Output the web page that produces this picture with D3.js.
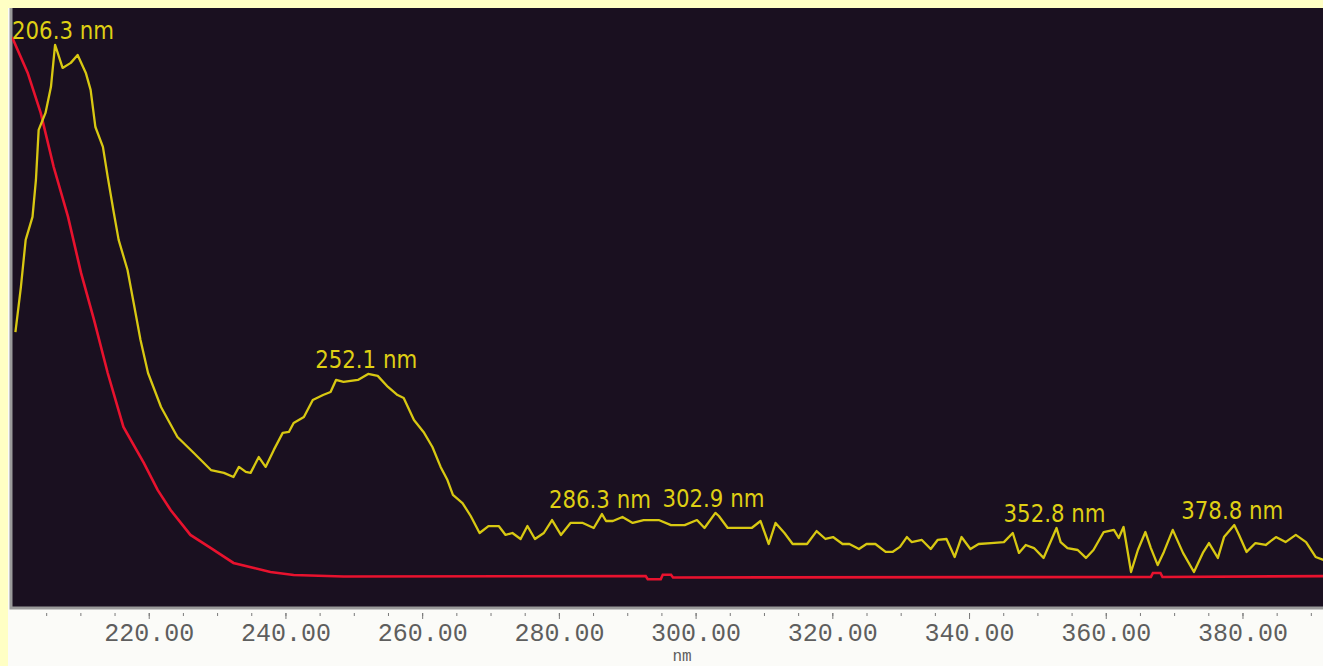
<!DOCTYPE html>
<html>
<head>
<meta charset="utf-8">
<script src="https://cdn.jsdelivr.net/npm/d3@7"></script>
<style>
    html, body { margin: 0; padding: 0; background: #ffffc4; overflow: hidden; }
    svg { display: block; }
    .peak-label { font-family: "DejaVu Sans Condensed", "DejaVu Sans", sans-serif; font-stretch: condensed; font-size: 24px; fill: #dfcf14; }
    .x.axis text { font-family: "Liberation Mono", "DejaVu Sans Mono", monospace; font-size: 25px; fill: #5e5e5e; }
    .x.axis line { stroke: #7a7a7a; }
    .x.axis path { display: none; }
</style>
</head>
<body>
<div id="chart"></div>
<script>
"use strict";

// sample spectrum (yellow): wavelength in nm, absorbance
const sampleNm = [200.5, 201.3, 202.0, 203.0, 203.5, 203.9, 204.9, 205.7, 206.3, 206.7, 207.4, 208.6, 209.6, 210.8,
    211.5, 212.2, 213.3, 214.0, 214.9, 215.6, 216.9, 217.8, 218.8, 219.9, 221.8, 224.2, 226.6, 229.1, 231.0, 232.4,
    233.2, 234.2, 234.9, 236.1, 237.1, 238.3, 239.6, 240.5, 241.2, 242.7, 244.0, 245.5, 246.6, 247.4, 248.5, 250.6,
    252.1, 253.5, 255.0, 256.4, 257.3, 258.8, 260.2, 261.5, 262.7, 263.7, 264.5, 265.9, 267.1, 268.4, 269.7, 271.2,
    272.2, 273.2, 274.4, 275.4, 276.5, 277.8, 279.0, 280.3, 281.7, 283.5, 285.1, 286.3, 286.9, 287.9, 289.3, 290.8,
    292.4, 294.6, 296.4, 298.4, 300.2, 301.3, 302.9, 303.4, 304.7, 306.5, 308.2, 309.5, 310.7, 311.7, 313.0, 314.2,
    316.3, 317.7, 319.0, 320.1, 321.5, 322.5, 323.9, 325.0, 326.3, 327.8, 328.8, 329.9, 330.9, 331.6, 333.1, 334.4,
    335.4, 336.7, 337.9, 338.9, 340.2, 341.4, 343.2, 345.1, 346.4, 347.3, 348.3, 349.5, 350.9, 352.8, 353.4, 354.4,
    355.9, 357.1, 358.2, 359.7, 361.2, 361.9, 362.6, 363.7, 364.7, 365.8, 366.6, 367.6, 368.5, 369.8, 371.3, 372.9,
    374.2, 375.1, 376.4, 377.3, 378.8, 379.5, 380.6, 381.9, 383.4, 384.9, 386.3, 387.8, 389.3, 390.7, 391.9];
const sampleAbs = [1.323, 1.556, 1.800, 1.919, 2.110, 2.369, 2.457, 2.592, 2.809, 2.767, 2.690, 2.716, 2.757, 2.664,
    2.576, 2.384, 2.281, 2.126, 1.939, 1.800, 1.644, 1.473, 1.282, 1.111, 0.935, 0.780, 0.697, 0.609, 0.594, 0.573,
    0.625, 0.599, 0.594, 0.676, 0.625, 0.713, 0.801, 0.806, 0.852, 0.883, 0.971, 0.997, 1.013, 1.075, 1.065, 1.075,
    1.106, 1.096, 1.039, 0.997, 0.982, 0.868, 0.806, 0.728, 0.625, 0.557, 0.480, 0.438, 0.371, 0.283, 0.319, 0.319,
    0.273, 0.283, 0.252, 0.319, 0.252, 0.283, 0.350, 0.273, 0.335, 0.335, 0.309, 0.381, 0.345, 0.345, 0.366, 0.335,
    0.350, 0.350, 0.324, 0.324, 0.350, 0.309, 0.387, 0.371, 0.309, 0.309, 0.309, 0.345, 0.226, 0.335, 0.283, 0.226,
    0.226, 0.293, 0.252, 0.262, 0.226, 0.226, 0.200, 0.226, 0.226, 0.185, 0.185, 0.211, 0.262, 0.236, 0.247, 0.200,
    0.247, 0.252, 0.159, 0.262, 0.200, 0.226, 0.231, 0.236, 0.283, 0.180, 0.221, 0.205, 0.154, 0.309, 0.236, 0.205,
    0.195, 0.154, 0.195, 0.288, 0.299, 0.257, 0.314, 0.081, 0.195, 0.288, 0.205, 0.117, 0.185, 0.299, 0.180, 0.081,
    0.180, 0.231, 0.154, 0.262, 0.324, 0.273, 0.185, 0.231, 0.221, 0.262, 0.236, 0.273, 0.236, 0.159, 0.143];

// blank / reference spectrum (red)
const blankNm = [200.0, 202.3, 204.2, 206.1, 208.2, 210.1, 212.0, 214.0, 216.3, 219.3, 221.3, 223.2, 226.1, 229.1,
    232.4, 235.4, 237.8, 241.2, 248.5, 292.7, 293.0, 294.9, 295.2, 296.4, 296.7, 366.6, 366.9, 368.0, 368.3, 391.9];
const blankAbs = [2.850, 2.664, 2.457, 2.177, 1.919, 1.629, 1.386, 1.111, 0.832, 0.645, 0.506, 0.402, 0.273, 0.205,
    0.128, 0.102, 0.081, 0.066, 0.058, 0.060, 0.044, 0.044, 0.067, 0.067, 0.053, 0.055, 0.076, 0.076, 0.055, 0.060];

// marked peaks
const peakNm = [206.3, 252.1, 286.3, 302.9, 352.8, 378.8];

// axis
const majorTicks = [220, 240, 260, 280, 300, 320, 340, 360, 380];
const xTitle = "nm";

function main() {
    const width = 1323;
    const height = 666;
    const plot = {left: 12, top: 8, right: 1323, bottom: 607};

    const svg = d3.select("#chart").append("svg")
        .attr("width", width)
        .attr("height", height);

    // paper + screen
    svg.append("rect")
        .attr("x", 8).attr("y", 8)
        .attr("width", width - 8).attr("height", height - 8)
        .attr("fill", "#fbfbf8");
    svg.append("rect")
        .attr("x", plot.left).attr("y", plot.top)
        .attr("width", plot.right - plot.left).attr("height", plot.bottom - plot.top)
        .attr("fill", "#1a1020");
    // grey frame on left and bottom
    svg.append("path")
        .attr("d", "M" + (plot.left - 1) + "," + plot.top + "V" + (plot.bottom + 1) + "H" + plot.right)
        .attr("fill", "none")
        .attr("stroke", "#9a9a9a")
        .attr("stroke-width", 3);

    svg.append("clipPath").attr("id", "plot-clip")
        .append("rect")
        .attr("x", plot.left).attr("y", plot.top)
        .attr("width", plot.right - plot.left).attr("height", plot.bottom - plot.top);

    const xScale = d3.scaleLinear()
        .domain([200, 400])
        .range([plot.left, plot.left + 200 * 6.836]);
    const yScale = d3.scaleLinear()
        .domain([-0.1, 3.0])
        .range([plot.bottom, plot.top]);

    const line = d3.line()
        .x(function (d) { return xScale(d[0]); })
        .y(function (d) { return yScale(d[1]); });

    const blank = d3.zip(blankNm, blankAbs);
    const sample = d3.zip(sampleNm, sampleAbs);

    const g = svg.append("g").attr("clip-path", "url(#plot-clip)");
    g.append("path")
        .datum(blank)
        .attr("fill", "none")
        .attr("stroke", "#e8122e")
        .attr("stroke-width", 2.6)
        .attr("d", line);
    g.append("path")
        .datum(sample)
        .attr("fill", "none")
        .attr("stroke", "#d8c812")
        .attr("stroke-width", 2.3)
        .attr("stroke-linejoin", "round")
        .attr("d", line);

    // peak labels
    svg.append("g").selectAll("text")
        .data(peakNm)
        .enter().append("text")
        .attr("class", "peak-label")
        .attr("x", function (nm) { return Math.max(plot.left, xScale(nm) - 53); })
        .attr("y", function (nm) {
            const near = sample.filter(function (d) { return Math.abs(d[0] - nm) <= 1.5; });
            const top = d3.max(near, function (d) { return d[1]; });
            return Math.max(yScale(top) - 6, plot.top + 25);
        })
        .attr("textLength", 102)
        .attr("lengthAdjust", "spacingAndGlyphs")
        .text(function (nm) { return nm.toFixed(1) + " nm"; });

    // x axis: minor ticks every 5 nm, labelled ticks every 20 nm
    const axisY = 613;
    const minorAxis = d3.axisBottom(xScale)
        .tickValues(d3.range(205, 395, 5))
        .tickSize(3)
        .tickFormat("");
    const majorAxis = d3.axisBottom(xScale)
        .tickValues(majorTicks)
        .tickSize(6)
        .tickPadding(4)
        .tickFormat(d3.format(".2f"));
    svg.append("g")
        .attr("class", "x axis")
        .attr("transform", "translate(0," + axisY + ")")
        .call(minorAxis);
    svg.append("g")
        .attr("class", "x axis")
        .attr("transform", "translate(0," + axisY + ")")
        .call(majorAxis);

    svg.append("text")
        .attr("x", 682)
        .attr("y", 661)
        .attr("text-anchor", "middle")
        .attr("font-family", "Liberation Mono, DejaVu Sans Mono, monospace")
        .attr("font-size", 16)
        .attr("fill", "#5e5e5e")
        .text(xTitle);
}

main();
</script>
</body>
</html>
